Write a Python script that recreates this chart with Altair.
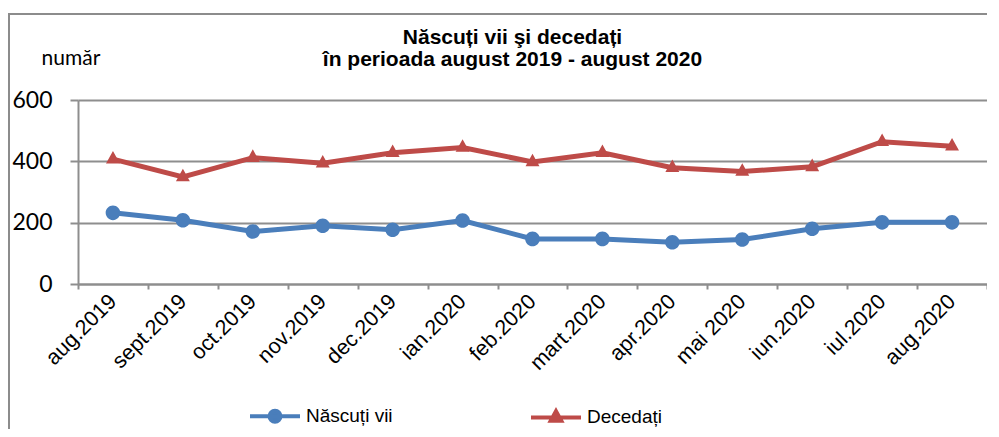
import altair as alt
import pandas as pd

# ---- data ----
months = ["aug.2019", "sept.2019", "oct.2019", "nov.2019", "dec.2019", "ian.2020",
          "feb.2020", "mart.2020", "apr.2020", "mai 2020", "iun.2020", "iul.2020", "aug.2020"]
nascuti_vii = [232, 208, 171, 190, 177, 207, 147, 147, 136, 145, 180, 201, 201]
decedati = [407, 349, 412, 394, 428, 445, 398, 428, 379, 367, 382, 464, 449]
series = ["Născuți vii", "Decedați"]
colors = ["#4A7EBB", "#BE4B48"]
y_ticks = [0, 200, 400, 600]
title_lines = ["Născuți vii şi decedați", "în perioada august 2019 - august 2020"]
y_title = "număr"

df = pd.DataFrame({
    "luna": months * 2,
    "serie": [series[0]] * len(months) + [series[1]] * len(months),
    "valoare": nascuti_vii + decedati,
})

# marker shapes: a horizontal segment (only stroked, i.e. shown in the legend) + filled marker
circle_path = "M-1,0H1M0.22,0A0.22,0.22 0 1,1 -0.22,0A0.22,0.22 0 1,1 0.22,0Z"
triangle_path = "M-1,0H1M0,-0.25L0.21,0.13L-0.21,0.13Z"

grey = "#8e8e8e"
color_scale = alt.Scale(domain=series, range=colors)
# same colours, domain listed in the other order so that this (legend-less) scale
# is not merged with the legend scales
line_scale = alt.Scale(domain=series[::-1], range=colors[::-1])
shape_scale = alt.Scale(domain=series, range=[circle_path, triangle_path])

x_enc = alt.X(
    "luna:N",
    sort=months,
    scale=alt.Scale(type="band", paddingInner=0, paddingOuter=0),
    axis=alt.Axis(
        title=None,
        labelAngle=-45,
        labelAlign="right",
        labelBaseline="middle",
        labelFont="Liberation Sans",
        labelFontSize=21.5,
        labelColor="black",
        labelPadding=9,
        tickBand="extent",
        tickSize=5,
        tickWidth=2,
        tickColor=grey,
        domainColor=grey,
        domainWidth=2,
        grid=False,
    ),
)
y_enc = alt.Y(
    "valoare:Q",
    scale=alt.Scale(domain=[0, 600], nice=False),
    axis=alt.Axis(
        values=y_ticks,
        title=y_title,
        titleAngle=0,
        titleAlign="left",
        titleBaseline="alphabetic",
        titleX=-37,
        titleY=-36,
        titleFont="Lato",
        titleFontSize=21,
        titleFontWeight="normal",
        titleColor="black",
        labelFont="Lato",
        labelFontSize=23,
        labelColor="black",
        labelPadding=18,
        tickSize=8,
        tickWidth=2,
        tickColor=grey,
        domainColor=grey,
        domainWidth=2,
        gridColor=grey,
        gridWidth=2,
    ),
)

leg = alt.Legend(
    title=None,
    orient="none",
    legendX=170,
    legendY=289,
    direction="horizontal",
    labelFont="Liberation Sans",
    labelFontSize=19,
    labelColor="black",
    labelOffset=4,
    columnPadding=130,
    symbolSize=2500,
    symbolStrokeWidth=4,
    symbolStrokeColor="black",
)

frame = alt.Chart(pd.DataFrame({"k": [0]})).mark_rect(
    fillOpacity=0, stroke="#8c8c8c", strokeWidth=2
).encode(
    x=alt.value(-69), x2=alt.value(940), y=alt.value(-86), y2=alt.value(420)
)

lines = alt.Chart(df).mark_line(strokeWidth=5).encode(
    x=x_enc,
    y=y_enc,
    color=alt.Color("serie:N", scale=line_scale, legend=None),
)

points = alt.Chart(df).mark_point(
    filled=True, size=4400, strokeWidth=4, opacity=1
).encode(
    x=x_enc,
    y=y_enc,
    fill=alt.Fill("serie:N", scale=color_scale, legend=leg),
    stroke=alt.Stroke("serie:N", scale=color_scale, legend=leg),
    shape=alt.Shape("serie:N", scale=shape_scale, legend=leg),
    strokeWidth=alt.value(0),
)

chart = alt.layer(frame, lines, points).properties(
    width=909,
    height=184,
    padding={"left": 70, "top": 92, "right": 0, "bottom": 145},
    autosize=alt.AutoSizeParams(type="none"),
    background="white",
    title=alt.TitleParams(
        text=title_lines,
        font="Liberation Sans",
        fontSize=21,
        fontWeight="bold",
        color="black",
        anchor="middle",
        dx=-20,
        offset=-57,
        lineHeight=22,
    ),
).configure_view(stroke=None)

chart.save("out.html", embed_options={"renderer": "svg", "actions": False})
